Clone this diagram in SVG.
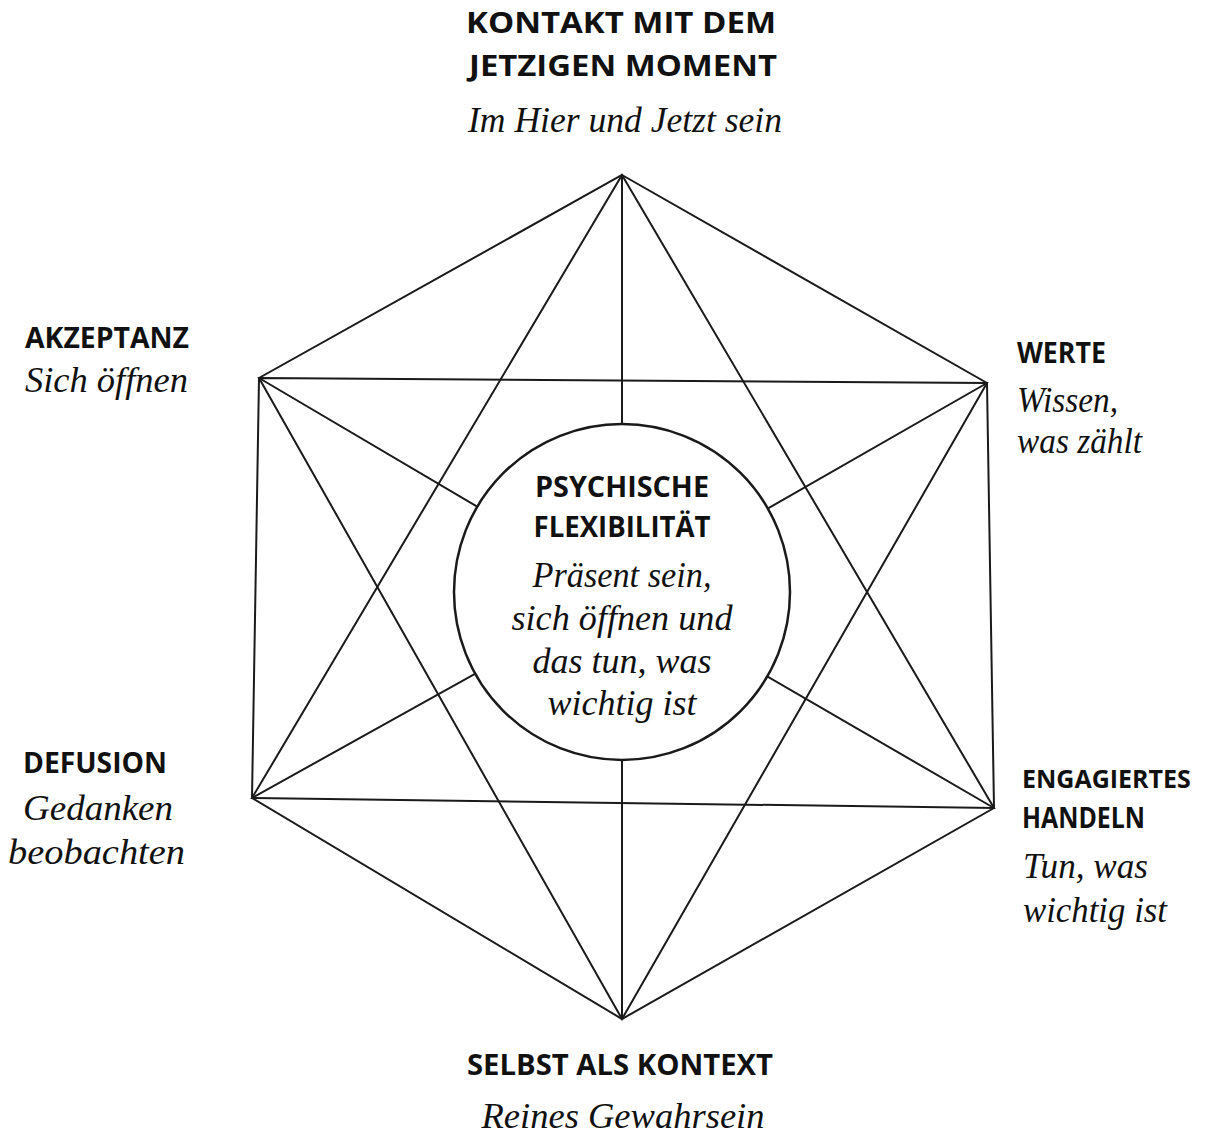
<svg xmlns="http://www.w3.org/2000/svg" width="1205" height="1139" viewBox="0 0 1205 1139">
<style>
.h{font-family:"Open Sans","Noto Sans",sans-serif;font-weight:700;font-size:28px;fill:#111}
.s{font-family:"Liberation Serif",serif;font-style:italic;font-size:35px;fill:#111}
.ln{stroke:#1a1a1a;stroke-width:2;fill:none;stroke-linecap:round}
</style>
<rect width="1205" height="1139" fill="#fff"/>
<g id="connectors" class="ln">
<polygon points="622,175 987,383 994,808 622,1019 252,798 259,378"/>
<polygon points="622,175 994,808 252,798"/>
<polygon points="259,378 987,383 622,1019"/>
<line x1="622" y1="175" x2="622" y2="592"/>
<line x1="622" y1="1019" x2="622" y2="592"/>
<line x1="259" y1="378" x2="622" y2="592"/>
<line x1="987" y1="383" x2="622" y2="592"/>
<line x1="252" y1="798" x2="622" y2="592"/>
<line x1="994" y1="808" x2="622" y2="592"/>
</g>
<g id="center">
<circle cx="622" cy="592" r="168" fill="#fff" stroke="#1a1a1a" stroke-width="2.5"/>
<text class="h" x="622" y="497" text-anchor="middle" textLength="174" lengthAdjust="spacingAndGlyphs">PSYCHISCHE</text>
<text class="h" x="622" y="537" text-anchor="middle" textLength="177" lengthAdjust="spacingAndGlyphs">FLEXIBILITÄT</text>
<text class="s" x="622" y="587" text-anchor="middle" textLength="179" lengthAdjust="spacingAndGlyphs">Präsent sein,</text>
<text class="s" x="622" y="630" text-anchor="middle" textLength="221" lengthAdjust="spacingAndGlyphs">sich öffnen und</text>
<text class="s" x="622" y="673" text-anchor="middle" textLength="179" lengthAdjust="spacingAndGlyphs">das tun, was</text>
<text class="s" x="622" y="715" text-anchor="middle" textLength="149" lengthAdjust="spacingAndGlyphs">wichtig ist</text>
</g>
<g id="kontakt">
<text class="h" x="621" y="33" text-anchor="middle" textLength="310" lengthAdjust="spacingAndGlyphs">KONTAKT MIT DEM</text>
<text class="h" x="623" y="76" text-anchor="middle" textLength="308" lengthAdjust="spacingAndGlyphs">JETZIGEN MOMENT</text>
<text class="s" x="625" y="132" text-anchor="middle" textLength="314" lengthAdjust="spacingAndGlyphs">Im Hier und Jetzt sein</text>
</g>
<g id="akzeptanz">
<text class="h" x="25" y="348" textLength="164" lengthAdjust="spacingAndGlyphs">AKZEPTANZ</text>
<text class="s" x="25" y="392" textLength="163" lengthAdjust="spacingAndGlyphs">Sich öffnen</text>
</g>
<g id="werte">
<text class="h" x="1017" y="363" textLength="89" lengthAdjust="spacingAndGlyphs">WERTE</text>
<text class="s" x="1017" y="412" textLength="101" lengthAdjust="spacingAndGlyphs">Wissen,</text>
<text class="s" x="1017" y="453" textLength="125" lengthAdjust="spacingAndGlyphs">was zählt</text>
</g>
<g id="defusion">
<text class="h" x="23" y="773" textLength="144" lengthAdjust="spacingAndGlyphs">DEFUSION</text>
<text class="s" x="23" y="820" textLength="150" lengthAdjust="spacingAndGlyphs">Gedanken</text>
<text class="s" x="8" y="864" textLength="177" lengthAdjust="spacingAndGlyphs">beobachten</text>
</g>
<g id="engagiert">
<text class="h" x="1022" y="788" style="font-size:25px">ENGAGIERTES</text>
<text class="h" x="1022" y="828" textLength="123" lengthAdjust="spacingAndGlyphs">HANDELN</text>
<text class="s" x="1023" y="878" textLength="125" lengthAdjust="spacingAndGlyphs">Tun, was</text>
<text class="s" x="1023" y="922" textLength="144" lengthAdjust="spacingAndGlyphs">wichtig ist</text>
</g>
<g id="selbst">
<text class="h" x="620" y="1075" text-anchor="middle" textLength="306" lengthAdjust="spacingAndGlyphs">SELBST ALS KONTEXT</text>
<text class="s" x="623" y="1128" text-anchor="middle" textLength="283" lengthAdjust="spacingAndGlyphs">Reines Gewahrsein</text>
</g>
</svg>
